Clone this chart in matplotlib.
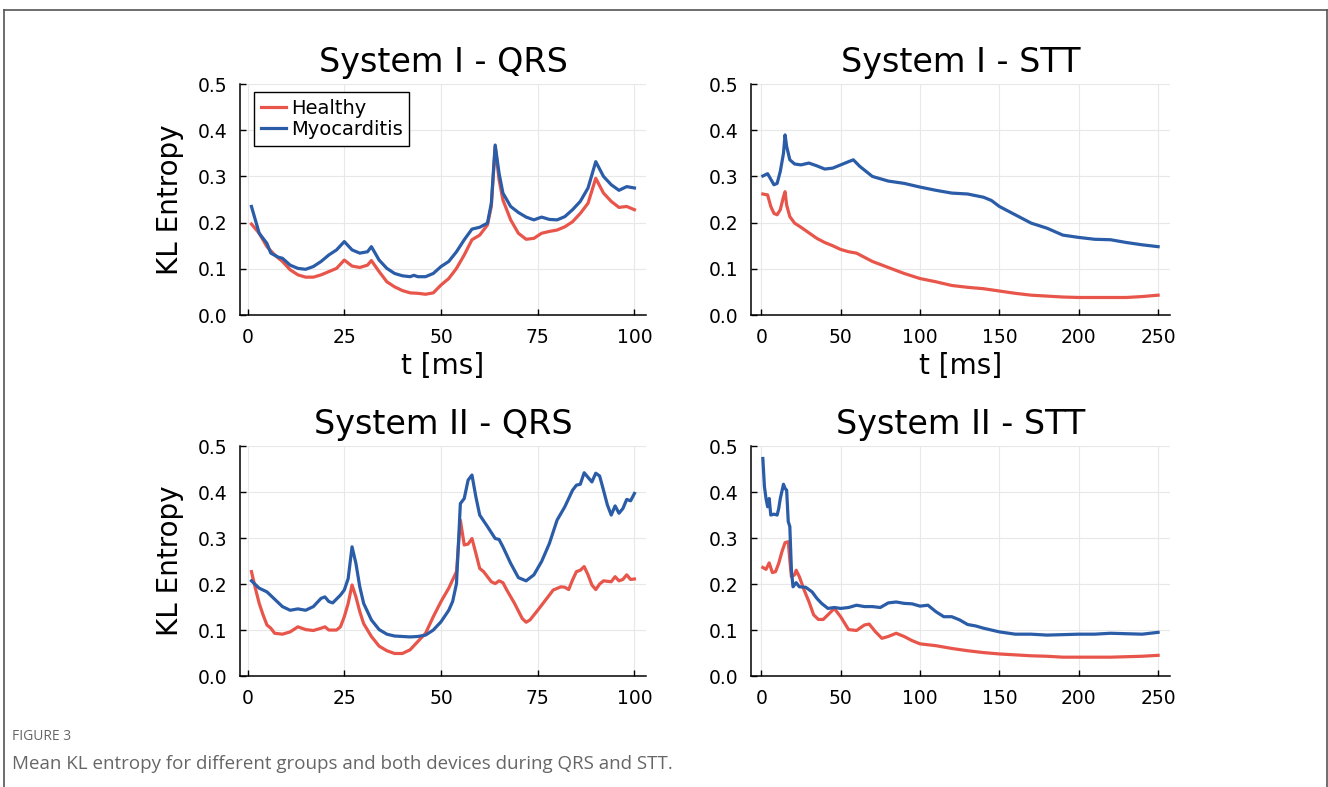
import matplotlib
matplotlib.use("Agg")
import matplotlib.pyplot as plt
from matplotlib.lines import Line2D

plt.rcParams['font.family'] = ['DejaVu Sans']

# System I - QRS
s1_qrs_t_h = [1, 3, 5, 7, 9, 11, 13, 15, 17, 19, 21, 23, 25, 27, 29, 31, 32, 34, 36, 38, 40, 42, 44, 46, 48,
              50, 52, 54, 56, 58, 60, 62, 63, 64, 65, 66, 68, 70, 72, 74, 76, 78, 80, 82, 84, 86, 88, 90,
              92, 94, 96, 98, 100]
s1_qrs_healthy = [0.197, 0.177, 0.148, 0.130, 0.116, 0.098, 0.087, 0.082, 0.082, 0.087, 0.094, 0.101, 0.119,
                  0.106, 0.103, 0.108, 0.118, 0.094, 0.072, 0.061, 0.053, 0.048, 0.047, 0.045, 0.048, 0.065,
                  0.079, 0.101, 0.130, 0.163, 0.173, 0.195, 0.235, 0.365, 0.293, 0.249, 0.206, 0.177, 0.164,
                  0.166, 0.177, 0.181, 0.184, 0.191, 0.202, 0.220, 0.242, 0.296, 0.264, 0.246, 0.233, 0.235,
                  0.228]
s1_qrs_t_m = [1, 2, 3, 5, 6, 8, 9, 11, 13, 15, 17, 19, 21, 23, 25, 27, 29, 31, 32, 34, 36, 38, 40, 42, 43, 44,
              46, 48, 50, 52, 54, 56, 58, 60, 62, 63, 64, 65, 66, 68, 70, 72, 74, 76, 78, 80, 82, 84, 86, 88,
              90, 92, 94, 96, 98, 100]
s1_qrs_myo = [0.235, 0.206, 0.177, 0.155, 0.134, 0.125, 0.123, 0.108, 0.101, 0.099, 0.105, 0.116, 0.130, 0.141,
              0.159, 0.141, 0.134, 0.137, 0.148, 0.119, 0.101, 0.090, 0.085, 0.083, 0.086, 0.083, 0.083, 0.090,
              0.105, 0.116, 0.137, 0.163, 0.186, 0.190, 0.199, 0.242, 0.368, 0.307, 0.264, 0.235, 0.222, 0.212,
              0.206, 0.212, 0.207, 0.206, 0.213, 0.228, 0.246, 0.275, 0.332, 0.300, 0.282, 0.270, 0.278, 0.275]

# System I - STT
s1_stt_t_m = [1, 4, 6, 8, 10, 12, 14, 15, 16, 18, 21, 25, 30, 35, 40, 45, 50, 55, 58, 62, 66, 70, 80, 90, 100,
              110, 120, 130, 140, 145, 150, 160, 170, 180, 190, 200, 210, 220, 230, 240, 250]
s1_stt_myo = [0.301, 0.306, 0.294, 0.282, 0.285, 0.311, 0.350, 0.390, 0.365, 0.336, 0.327, 0.325, 0.329, 0.323,
              0.316, 0.318, 0.325, 0.332, 0.336, 0.322, 0.311, 0.300, 0.290, 0.285, 0.277, 0.270, 0.264, 0.262,
              0.255, 0.248, 0.235, 0.217, 0.199, 0.188, 0.173, 0.168, 0.164, 0.163, 0.157, 0.152, 0.148]
s1_stt_t_h = [1, 4, 6, 8, 10, 12, 14, 15, 16, 18, 21, 25, 30, 35, 40, 45, 50, 55, 60, 65, 70, 80, 90, 100, 110,
              120, 130, 140, 150, 160, 170, 180, 190, 200, 210, 220, 230, 240, 250]
s1_stt_healthy = [0.262, 0.260, 0.235, 0.220, 0.217, 0.228, 0.256, 0.267, 0.238, 0.213, 0.199, 0.190, 0.178,
                  0.166, 0.157, 0.150, 0.142, 0.137, 0.134, 0.125, 0.116, 0.103, 0.090, 0.079, 0.072, 0.064,
                  0.060, 0.057, 0.052, 0.047, 0.043, 0.041, 0.039, 0.038, 0.038, 0.038, 0.038, 0.040, 0.043]

# System II - QRS
s2_qrs_t_h = [1, 2, 3, 4, 5, 6, 7, 9, 11, 13, 15, 17, 19, 20, 21, 23, 24, 25, 26, 27, 28, 29, 30, 32, 34, 36,
              38, 40, 42, 44, 46, 48, 50, 52, 54, 55, 56, 57, 58, 59, 60, 61, 63, 64, 65, 66, 67, 69, 71, 72,
              73, 75, 77, 79, 81, 82, 83, 84, 85, 86, 87, 88, 89, 90, 91, 92, 94, 95, 96, 97, 98, 99, 100]
s2_qrs_healthy = [0.227, 0.191, 0.158, 0.133, 0.111, 0.104, 0.093, 0.091, 0.096, 0.107, 0.101, 0.099, 0.104,
                  0.107, 0.100, 0.100, 0.107, 0.129, 0.158, 0.198, 0.172, 0.140, 0.114, 0.086, 0.065, 0.055,
                  0.049, 0.049, 0.057, 0.075, 0.093, 0.129, 0.162, 0.191, 0.227, 0.339, 0.285, 0.287, 0.299,
                  0.267, 0.234, 0.227, 0.205, 0.201, 0.207, 0.203, 0.187, 0.158, 0.125, 0.117, 0.122, 0.143,
                  0.165, 0.187, 0.194, 0.193, 0.188, 0.209, 0.227, 0.230, 0.238, 0.220, 0.198, 0.188, 0.200,
                  0.207, 0.205, 0.216, 0.207, 0.210, 0.220, 0.210, 0.211]
s2_qrs_t_m = [1, 3, 5, 7, 9, 11, 13, 15, 17, 19, 20, 21, 22, 24, 25, 26, 27, 28, 29, 30, 32, 34, 36, 38, 40,
              42, 44, 46, 48, 50, 52, 53, 54, 55, 56, 57, 58, 59, 60, 62, 64, 65, 66, 68, 70, 72, 74, 76, 78,
              80, 82, 84, 85, 86, 87, 88, 89, 90, 91, 92, 93, 94, 95, 96, 97, 98, 99, 100]
s2_qrs_myo = [0.207, 0.191, 0.183, 0.167, 0.151, 0.143, 0.146, 0.143, 0.151, 0.169, 0.172, 0.162, 0.159, 0.176,
              0.187, 0.212, 0.281, 0.245, 0.194, 0.158, 0.122, 0.101, 0.091, 0.087, 0.086, 0.085, 0.086, 0.089,
              0.100, 0.118, 0.143, 0.162, 0.201, 0.375, 0.386, 0.426, 0.437, 0.390, 0.350, 0.325, 0.299, 0.297,
              0.281, 0.245, 0.214, 0.207, 0.220, 0.249, 0.288, 0.339, 0.368, 0.404, 0.415, 0.417, 0.442, 0.432,
              0.422, 0.441, 0.435, 0.404, 0.372, 0.350, 0.370, 0.354, 0.364, 0.384, 0.381, 0.397]

# System II - STT
s2_stt_t_m = [1, 2, 3, 4, 5, 6, 8, 10, 11, 12, 14, 15, 16, 17, 18, 19, 20, 22, 24, 28, 32, 35, 38, 42, 46, 50,
              55, 60, 65, 70, 75, 80, 85, 90, 95, 100, 105, 110, 115, 120, 125, 130, 135, 140, 145, 150, 160,
              170, 180, 190, 200, 210, 220, 230, 240, 250]
s2_stt_myo = [0.473, 0.412, 0.386, 0.368, 0.386, 0.350, 0.352, 0.350, 0.364, 0.386, 0.417, 0.408, 0.404, 0.336,
              0.325, 0.230, 0.194, 0.203, 0.194, 0.193, 0.183, 0.169, 0.158, 0.147, 0.149, 0.147, 0.149, 0.154,
              0.151, 0.151, 0.149, 0.159, 0.161, 0.158, 0.157, 0.152, 0.154, 0.140, 0.129, 0.129, 0.122, 0.112,
              0.109, 0.104, 0.100, 0.096, 0.091, 0.091, 0.089, 0.090, 0.091, 0.091, 0.093, 0.092, 0.091, 0.095]
s2_stt_t_h = [1, 3, 5, 7, 9, 11, 13, 15, 17, 18, 19, 21, 22, 24, 27, 30, 33, 36, 39, 42, 46, 50, 55, 60, 65,
              68, 72, 76, 80, 85, 90, 95, 100, 110, 120, 130, 140, 150, 160, 170, 180, 190, 200, 210, 220,
              230, 240, 250]
s2_stt_healthy = [0.236, 0.232, 0.246, 0.225, 0.227, 0.245, 0.270, 0.290, 0.292, 0.252, 0.216, 0.220, 0.230,
                  0.216, 0.187, 0.162, 0.133, 0.123, 0.123, 0.133, 0.147, 0.129, 0.101, 0.099, 0.111, 0.113,
                  0.096, 0.082, 0.086, 0.093, 0.086, 0.077, 0.070, 0.066, 0.060, 0.055, 0.051, 0.048, 0.046,
                  0.044, 0.043, 0.041, 0.041, 0.041, 0.041, 0.042, 0.043, 0.045]

titles = ["System I - QRS", "System I - STT", "System II - QRS", "System II - STT"]
labels = ["Healthy", "Myocarditis"]
red = "#e8554a"
blue = "#2a5ca7"

panels = [
    (s1_qrs_t_h, s1_qrs_healthy, s1_qrs_t_m, s1_qrs_myo, 100),
    (s1_stt_t_h, s1_stt_healthy, s1_stt_t_m, s1_stt_myo, 250),
    (s2_qrs_t_h, s2_qrs_healthy, s2_qrs_t_m, s2_qrs_myo, 100),
    (s2_stt_t_h, s2_stt_healthy, s2_stt_t_m, s2_stt_myo, 250),
]

# axes rectangles in figure fractions
rects = [
    [0.1807, 0.5997, 0.3057, 0.2935],
    [0.5655, 0.5997, 0.3155, 0.2935],
    [0.1807, 0.1410, 0.3057, 0.2922],
    [0.5655, 0.1410, 0.3155, 0.2922],
]

fig = plt.figure(figsize=(13.28, 7.87), dpi=100)

for i, (th, yh, tm, ym, tmax) in enumerate(panels):
    ax = fig.add_axes(rects[i])
    ax.plot(th, yh, color=red, lw=2.3, label=labels[0])
    ax.plot(tm, ym, color=blue, lw=2.3, label=labels[1])

    pad = 0.03 * (tmax - 1)
    ax.set_xlim(1 - pad, tmax + pad)
    ax.set_ylim(0, 0.5)
    if tmax == 100:
        ax.set_xticks([0, 25, 50, 75, 100])
    else:
        ax.set_xticks([0, 50, 100, 150, 200, 250])
    ax.set_yticks([0.0, 0.1, 0.2, 0.3, 0.4, 0.5])
    ax.set_yticklabels(["0.0", "0.1", "0.2", "0.3", "0.4", "0.5"])

    ax.grid(True, color="#e8e8e8", lw=0.8)
    ax.set_axisbelow(True)
    for side in ["top", "right"]:
        ax.spines[side].set_visible(False)
    for side in ["left", "bottom"]:
        ax.spines[side].set_linewidth(1.1)
    ax.tick_params(direction="in", length=4, width=1, labelsize=13.5, pad=9)

    ax.set_title(titles[i], fontsize=24, pad=9)
    if i < 2:
        ax.set_xlabel("t [ms]", fontsize=20, labelpad=4)
    if i % 2 == 0:
        ax.set_ylabel("KL Entropy", fontsize=20, labelpad=10)
    if i == 0:
        ax.legend(loc="upper left", bbox_to_anchor=(0.0345, 0.965), borderaxespad=0,
                  fontsize=14, frameon=True, fancybox=False, edgecolor="black",
                  framealpha=1, handlelength=1.3, handletextpad=0.25,
                  labelspacing=0.1, borderpad=0.35).get_frame().set_linewidth(1.0)

# outer frame of the figure panel (open at the bottom)
W, H = 1328, 787
fig.add_artist(Line2D([4 / W, 4 / W], [0, 1 - 10 / H], color="#555555", lw=1.2))
fig.add_artist(Line2D([4 / W, 1327 / W], [1 - 10 / H, 1 - 10 / H], color="#555555", lw=1.2))
fig.add_artist(Line2D([1327 / W, 1327 / W], [0, 1 - 10 / H], color="#555555", lw=1.2))

fig.text(12 / W, 1 - 737 / H, "FIGURE 3", fontsize=10, color="#666666", family="Open Sans", va="center")
fig.text(12 / W, 1 - 764 / H, "Mean KL entropy for different groups and both devices during QRS and STT.",
         fontsize=13.5, color="#666666", family="Open Sans", va="center")

fig.savefig("out.png", dpi=100)
